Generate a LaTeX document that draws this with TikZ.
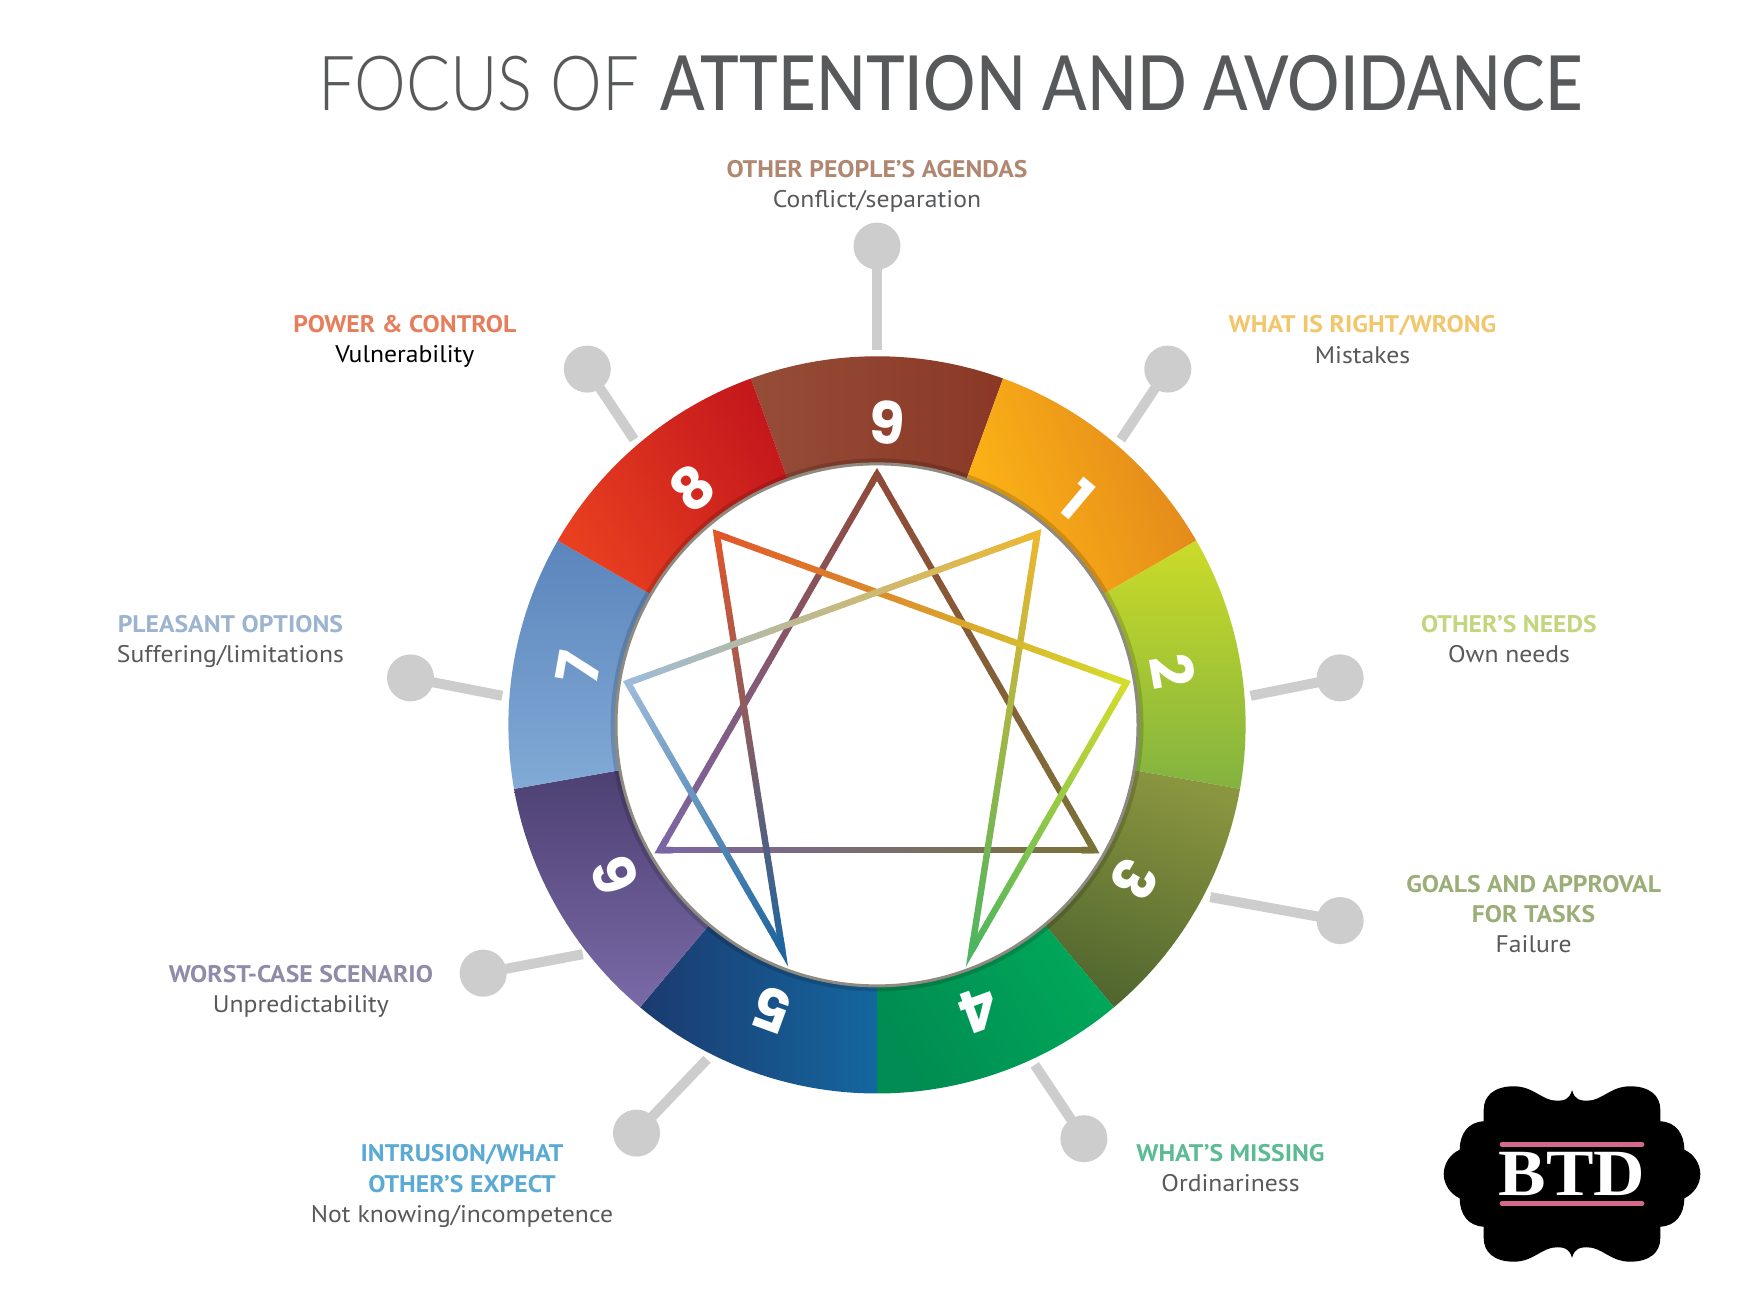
\documentclass[tikz,border=0pt]{standalone}
\usepackage{fontspec}
\usepackage{xcolor}
\usetikzlibrary{calc,positioning}
\setmainfont[FakeStretch=1.07]{PT Sans}
\newfontfamily\titlelight[FakeStretch=.86]{Lato Light}
\newfontfamily\titlemedium[FakeStretch=.86]{Lato Medium}
\newfontfamily\ringfont{Poppins}
\newfontfamily\logofont[FakeStretch=1.08]{Liberation Serif}
\definecolor{ink}{HTML}{58595B}
\definecolor{pin}{HTML}{CDCDCD}
\definecolor{ringedge}{HTML}{8E8A80}
\definecolor{logopink}{HTML}{D4688F}
\definecolor{ring9a}{HTML}{964D38}\definecolor{ring9b}{HTML}{8A3825}
\definecolor{ring1a}{HTML}{FDB515}\definecolor{ring1b}{HTML}{E2861C}
\definecolor{ring2a}{HTML}{CBDB28}\definecolor{ring2b}{HTML}{82B340}
\definecolor{ring3a}{HTML}{8A953F}\definecolor{ring3b}{HTML}{51672F}
\definecolor{ring4a}{HTML}{00A85A}\definecolor{ring4b}{HTML}{008C52}
\definecolor{ring5a}{HTML}{14679F}\definecolor{ring5b}{HTML}{1B3A6F}
\definecolor{ring6a}{HTML}{4D4072}\definecolor{ring6b}{HTML}{7A6AA8}
\definecolor{ring7a}{HTML}{5B85BC}\definecolor{ring7b}{HTML}{82AAD6}
\definecolor{ring8a}{HTML}{E83F20}\definecolor{ring8b}{HTML}{C4181C}
\definecolor{star9}{HTML}{8F4A38}\definecolor{star1}{HTML}{EDB72F}
\definecolor{star2}{HTML}{D6DC2C}\definecolor{star3}{HTML}{7A7338}
\definecolor{star4}{HTML}{4DB560}\definecolor{star5}{HTML}{1F659F}
\definecolor{star6}{HTML}{7B66A5}\definecolor{star7}{HTML}{9DBBD8}
\definecolor{star8}{HTML}{E1552B}
\definecolor{head9}{HTML}{B08872}\definecolor{head8}{HTML}{E67E5C}
\definecolor{head1}{HTML}{F2C66B}\definecolor{head7}{HTML}{9DB4D0}
\definecolor{head2}{HTML}{C3D67E}\definecolor{head3}{HTML}{9CAE78}
\definecolor{head6}{HTML}{8F8BA8}\definecolor{head5}{HTML}{5AAAD4}
\definecolor{head4}{HTML}{5DBB94}
\newcommand{\hd}[2]{{\color{head#1}\bfseries #2}}

\begin{document}
\begin{tikzpicture}[
  x=1pt, y=1pt,
  lab/.style={align=center, inner sep=0pt, text=ink, font=\fontsize{24}{30.2}\selectfont},
  pinhead/.style={circle, fill=pin, inner sep=0pt, minimum size=47pt},
  pinstem/.style={draw=pin, line width=10pt},
  digit/.style={text=white, inner sep=0pt, font=\ringfont\bfseries\fontsize{58}{58}\selectfont},
  starline/.style={line width=6.4pt, line cap=butt}
]
\useasboundingbox (0,0) rectangle (1754,1292);
\fill[white] (0,0) rectangle (1754,1292);
\coordinate (c) at (877,567.1);
\def\Rout{368.6}
\def\Rin{261}

\node[text=ink, inner sep=0pt, font=\fontsize{76}{76}\selectfont] (title) at (950.3,1209.2)
  {{\titlelight FOCUS OF} {\titlemedium ATTENTION AND AVOIDANCE}};

\foreach \n/\s/\e/\r in {9/70/110/90, 1/30/70/110, 2/-10/30/0, 3/-50/-10/-20, 4/-90/-50/-60,
                         5/-130/-90/-90, 6/-170/-130/0, 7/150/190/0, 8/110/150/120}{
  \shade[top color=ring\n a, bottom color=ring\n b, shading angle=\r]
    ($(c)+(\s:\Rout)$) arc[start angle=\s, end angle=\e, radius=\Rout]
    -- ($(c)+(\e:\Rin)$) arc[start angle=\e, end angle=\s, radius=\Rin] -- cycle;
}
\draw[black, opacity=.15, line width=5pt] (c) circle (\Rin+3);
\draw[draw=ringedge, fill=white, line width=3pt] (c) circle (\Rin);

\foreach \n/\x/\y/\r in {9/887/869.2/-5, 1/1077.2/793.1/-40, 2/1172.3/620.8/-80, 3/1134.3/412.8/-120,
                         4/978.8/281.9/-160, 5/773/281.9/160, 6/615.2/416.1/110, 7/578.3/624.2/80, 8/692.4/804.3/40}
  \node[digit, rotate=\r] (num\n) at (\x,\y) {\n};

\foreach \n/\a in {9/90, 3/-30, 6/-150}
  \coordinate (v\n) at ($(c)+(\a:250.6)$);
\foreach \n/\x/\y in {1/1037.3/758, 8/716.7/758, 2/1126.2/609.1, 7/627.8/609.1, 4/971.7/341.7, 5/782.3/341.7}
  \coordinate (v\n) at (\x,\y);

\foreach \a/\b in {9/3, 3/6, 6/9, 1/4, 4/2, 2/8, 8/5, 5/7, 7/1}{
  \foreach \p in {0,...,39}{
    \pgfmathsetmacro\tA{\p/40}
    \pgfmathsetmacro\tB{(\p+1.1)/40}
    \pgfmathtruncatemacro\m{(\p+.5)*2.5}
    \draw[starline, draw={star\b!\m!star\a}] ($(v\a)!\tA!(v\b)$) -- ($(v\a)!\tB!(v\b)$);
  }
}
\foreach \n/\a/\b in {9/6/3, 3/9/6, 6/3/9, 1/7/4, 4/1/2, 2/4/8, 8/2/5, 5/8/7, 7/5/1}
  \draw[starline, draw=star\n, line join=miter] ($(v\n)!.03!(v\a)$) -- (v\n) -- ($(v\n)!.03!(v\b)$);

\foreach \n/\x/\y/\ex/\ey in {9/877/1045.9/877/941.9, 8/587.3/922.9/634.2/852.4, 1/1167.8/922.9/1120.8/852.4,
                              7/410.5/614.1/502.3/596.2, 2/1340.1/614.1/1250.6/596.2, 6/483.2/318.8/582.8/337.8,
                              3/1340.1/371.4/1210.3/394.9, 5/636.5/158.9/707/232.7, 4/1083.9/153.3/1034.7/227.1}{
  \node[pinhead] (pin\n) at (\x,\y) {};
  \coordinate (end\n) at (\ex,\ey);
  \draw[pinstem] (pin\n.center) -- (end\n);
}

\node[lab] (lab9) at (877,1105.8) {\hd{9}{OTHER PEOPLE’S AGENDAS}\\Conflict/separation};
\node[lab] (lab8) at (404.9,950.3) {\hd{8}{POWER \& CONTROL}\\{\color{black}Vulnerability}};
\node[lab] (lab1) at (1362.5,952.5) {\hd{1}{WHAT IS RIGHT/WRONG}\\Mistakes};
\node[lab] (lab7) at (230.4,650.7) {\hd{7}{PLEASANT OPTIONS}\\Suffering/limitations};
\node[lab] (lab2) at (1509,652.7) {\hd{2}{OTHER’S NEEDS}\\Own needs};
\node[lab] (lab3) at (1533.6,378.1) {\hd{3}{GOALS AND APPROVAL}\\\hd{3}{FOR TASKS}\\Failure};
\node[lab] (lab6) at (300.9,300.6) {\hd{6}{WORST-CASE SCENARIO}\\Unpredictability};
\node[lab] (lab5) at (462,106) {\hd{5}{INTRUSION/WHAT}\\\hd{5}{OTHER’S EXPECT}\\Not knowing/incompetence};
\node[lab] (lab4) at (1230.5,123.6) {\hd{4}{WHAT’S MISSING}\\Ordinariness};

\coordinate (logo) at (1572,118);
\foreach \sx/\sy in {1/1, -1/1, 1/-1, -1/-1}
  \fill[black, shift={(logo)}, xscale=\sx, yscale=\sy] (0,0) -- (0,83.7)
    .. controls (3,74) and (8,73.3) .. (15,73.3)
    .. controls (30,73) and (38,87.7) .. (58.3,87.7)
    .. controls (78,87.7) and (88.3,78) .. (88.3,64.3)
    -- (88.3,52.7)
    .. controls (104,52) and (112.3,40) .. (112.3,24.3)
    .. controls (122,20) and (128.3,10) .. (128.3,0) -- cycle;
\node[text=white, inner sep=0pt, font=\logofont\bfseries\fontsize{66}{66}\selectfont] (btd) at (logo) {BTD};
\draw[logopink, line width=4.7pt, line cap=round] ($(logo)+(-70,29.5)$) -- ($(logo)+(70,29.5)$);
\draw[logopink, line width=4.7pt, line cap=round] ($(logo)+(-70,-29.5)$) -- ($(logo)+(70,-29.5)$);
\end{tikzpicture}
\end{document}
